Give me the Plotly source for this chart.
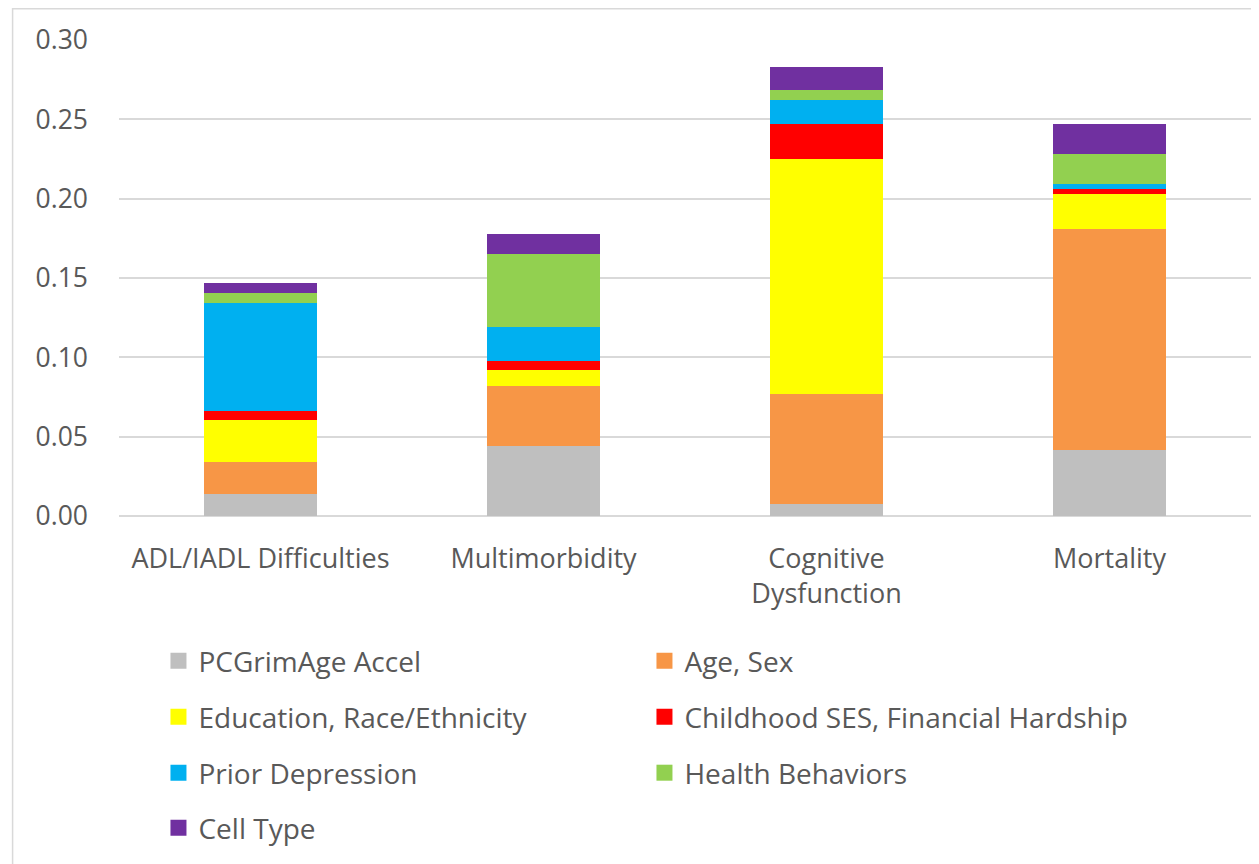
import plotly.graph_objects as go

categories = ["ADL/IADL Difficulties", "Multimorbidity", "Cognitive<br>Dysfunction", "Mortality"]
series_names = ["PCGrimAge Accel", "Age, Sex", "Education, Race/Ethnicity",
                "Childhood SES, Financial Hardship", "Prior Depression",
                "Health Behaviors", "Cell Type"]
pcgrimage = [0.0140, 0.0442, 0.0077, 0.0417]
age_sex = [0.0200, 0.0375, 0.0690, 0.1394]
education = [0.0265, 0.0104, 0.1484, 0.0216]
childhood = [0.0055, 0.0059, 0.0218, 0.0032]
depression = [0.0680, 0.0210, 0.0156, 0.0036]
health = [0.0063, 0.0460, 0.0063, 0.0185]
cell_type = [0.0063, 0.0130, 0.0139, 0.0193]
y_ticks = [0.00, 0.05, 0.10, 0.15, 0.20, 0.25, 0.30]

colors = ["#BFBFBF", "#F79646", "#FFFF00", "#FF0000", "#00B0F0", "#92D050", "#7030A0"]
values = [pcgrimage, age_sex, education, childhood, depression, health, cell_type]
legend_ids = ["legend", "legend", "legend2", "legend2", "legend3", "legend3", "legend4"]

FONT = "Open Sans"
TXT = "#595959"
fig = go.Figure()
for name, vals, col in zip(series_names, values, colors):
    fig.add_trace(go.Bar(x=categories, y=vals, name=name, showlegend=False,
                         marker=dict(color=col, line=dict(width=0))))
# legend entries (square swatches)
for name, col, lg in zip(series_names, colors, legend_ids):
    fig.add_trace(go.Scatter(x=[None], y=[None], mode="markers", name=name, legend=lg,
                             marker=dict(symbol="square", size=16, color=col),
                             hoverinfo="skip"))

# page body has an 8px margin; figure sized to fit the window
OFF = 8
W, H = 1251, 856
ml, mr, mt, mb = 110.5, 7.5, 32, 348
pw, ph = W - ml - mr, H - mt - mb

def px_x(x):
    return (x - OFF - ml) / pw

def px_y(y):
    return (H + OFF - mb - y) / ph

row_y = [661, 717, 773, 828]
leg_common = dict(orientation="h", entrywidth=441, entrywidthmode="pixels",
                  font=dict(family=FONT, size=28, color=TXT),
                  xanchor="left", yanchor="middle", bgcolor="rgba(0,0,0,0)",
                  traceorder="normal")
legends = {}
for i, key in enumerate(["legend", "legend2", "legend3", "legend4"]):
    legends[key] = dict(leg_common, x=px_x(158), y=px_y(row_y[i]))

fig.update_layout(
    width=W, height=H,
    margin=dict(l=ml, r=mr, t=mt, b=mb),
    barmode="stack", bargap=0.6,
    plot_bgcolor="white", paper_bgcolor="white",
    font=dict(family=FONT, size=26.5, color=TXT),
    xaxis=dict(showgrid=False, showline=False, ticks="", ticklabelstandoff=24,
               tickfont=dict(family=FONT, size=27, color=TXT)),
    yaxis=dict(range=[0, 0.30], tickvals=y_ticks, tickformat=".2f",
               showgrid=True, gridcolor="#D9D9D9", gridwidth=1.5,
               zeroline=True, zerolinecolor="#D9D9D9", zerolinewidth=1.5,
               showline=False, ticks="", ticklabelstandoff=30,
               tickfont=dict(family=FONT, size=26.5, color=TXT)),
    shapes=[dict(type="rect", xref="paper", yref="paper",
                 x0=px_x(12), x1=px_x(1275), y0=px_y(880), y1=px_y(8.75),
                 line=dict(color="#D9D9D9", width=1.5), layer="below")],
    **legends,
)

fig.write_html("out.html")
